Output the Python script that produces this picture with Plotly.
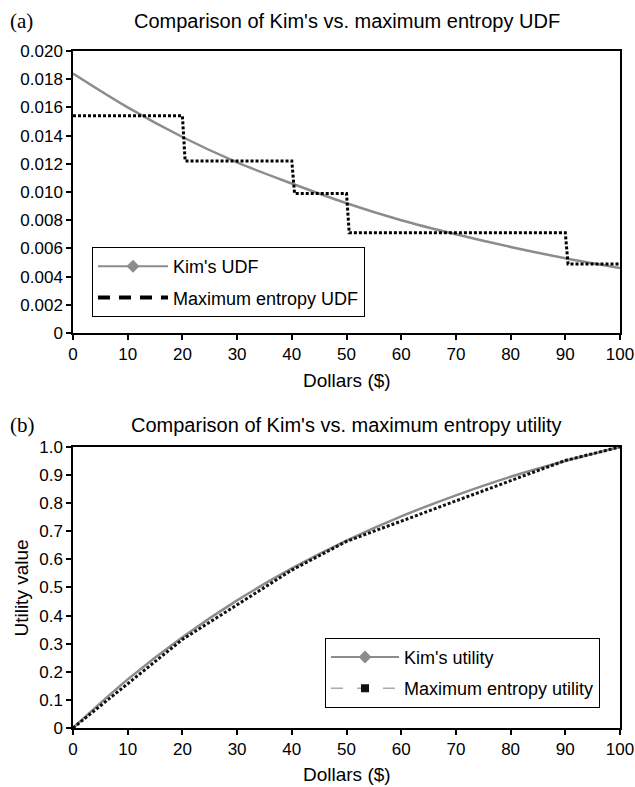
import plotly.graph_objects as go

# ---- data ----
dollars = [0, 10, 20, 30, 40, 50, 60, 70, 80, 90, 100]
kim_udf = [0.0184, 0.0160, 0.0139, 0.0121, 0.0106, 0.0092, 0.0080, 0.0070, 0.0061, 0.0053, 0.0046]

me_udf_x = [0, 20, 20.5, 40, 40.5, 50, 50.5, 90, 90.5, 100]
me_udf_y = [0.0154, 0.0154, 0.0122, 0.0122, 0.0099, 0.0099, 0.0071, 0.0071, 0.0049, 0.0049]

kim_utility = [0.0, 0.173, 0.323, 0.454, 0.568, 0.667, 0.753, 0.828, 0.894, 0.950, 1.0]

me_util_x = [0, 20, 40, 50, 90, 100]
me_util_y = [0.0, 0.315, 0.562, 0.664, 0.952, 1.0]

x_ticks = [0, 10, 20, 30, 40, 50, 60, 70, 80, 90, 100]
udf_ticks = [0, 0.002, 0.004, 0.006, 0.008, 0.010, 0.012, 0.014, 0.016, 0.018, 0.020]
udf_ticktext = ["0", "0.002", "0.004", "0.006", "0.008", "0.010", "0.012", "0.014", "0.016", "0.018", "0.020"]
util_ticks = [0, 0.1, 0.2, 0.3, 0.4, 0.5, 0.6, 0.7, 0.8, 0.9, 1.0]
util_ticktext = ["0", "0.1", "0.2", "0.3", "0.4", "0.5", "0.6", "0.7", "0.8", "0.9", "1.0"]

GRAY = "#8c8c8c"
FONT = "Liberation Sans, Arial, sans-serif"

fig = go.Figure()

# ---- top chart ----
fig.add_trace(go.Scatter(x=dollars, y=kim_udf, mode="lines", line=dict(color=GRAY, width=2.5, shape="spline"),
                         showlegend=False, xaxis="x", yaxis="y"))
fig.add_trace(go.Scatter(x=me_udf_x, y=me_udf_y, mode="lines", line=dict(color="black", width=3, dash="3px,2px"),
                         showlegend=False, xaxis="x", yaxis="y"))
fig.add_trace(go.Scatter(x=[None], y=[None], mode="lines+markers", name="Kim's UDF",
                         line=dict(color=GRAY, width=2), marker=dict(symbol="diamond", size=10, color=GRAY),
                         legend="legend", legendgroup="a1", xaxis="x", yaxis="y"))
fig.add_trace(go.Scatter(x=[None], y=[None], mode="lines", name="Maximum entropy UDF",
                         line=dict(color="black", width=4, dash="12px,9px"),
                         legend="legend", legendgroup="a2", xaxis="x", yaxis="y"))

# ---- bottom chart ----
fig.add_trace(go.Scatter(x=dollars, y=kim_utility, mode="lines", line=dict(color=GRAY, width=2.5, shape="spline"),
                         showlegend=False, xaxis="x2", yaxis="y2"))
fig.add_trace(go.Scatter(x=me_util_x, y=me_util_y, mode="lines", line=dict(color="#111111", width=3, dash="3px,2px"),
                         showlegend=False, xaxis="x2", yaxis="y2"))
fig.add_trace(go.Scatter(x=[None], y=[None], mode="lines+markers", name="Kim's utility",
                         line=dict(color=GRAY, width=2), marker=dict(symbol="diamond", size=10, color=GRAY),
                         legend="legend2", legendgroup="b1", xaxis="x2", yaxis="y2"))
fig.add_trace(go.Scatter(x=[None], y=[None], mode="lines+markers", name="Maximum entropy utility",
                         line=dict(color="#aaaaaa", width=1.5, dash="12px,14px"),
                         marker=dict(symbol="square", size=8, color="#111111"),
                         legend="legend2", legendgroup="b2", xaxis="x2", yaxis="y2"))

axis_common = dict(showgrid=False, zeroline=False, showline=True, linecolor="black", linewidth=1.5,
                   mirror=True, ticks="outside", ticklen=5, tickwidth=1.5, tickcolor="black",
                   ticklabeloverflow="allow", automargin=False,
                   tickfont=dict(size=17, color="black", family=FONT))

fig.update_layout(
    width=635, height=787,
    margin=dict(l=73, r=15, t=51, b=59, autoexpand=False),
    paper_bgcolor="white", plot_bgcolor="white",
    font=dict(family=FONT, color="black"),
    xaxis=dict(domain=[0, 1], range=[0, 100], tickvals=x_ticks, anchor="y", **axis_common),
    yaxis=dict(domain=[0.5835, 1.0], range=[0, 0.020], tickvals=udf_ticks, ticktext=udf_ticktext,
               anchor="x", **axis_common),
    xaxis2=dict(domain=[0, 1], range=[0, 100], tickvals=x_ticks, anchor="y2", **axis_common),
    yaxis2=dict(domain=[0, 0.4151], range=[0, 1.0], tickvals=util_ticks, ticktext=util_ticktext,
                anchor="x2", **axis_common),
    legend=dict(x=0.0347, y=0.7105, xanchor="left", yanchor="top", bordercolor="black", borderwidth=1,
                bgcolor="white", font=dict(size=18, family=FONT), itemwidth=70, tracegroupgap=5,
                traceorder="grouped"),
    legend2=dict(x=0.4607, y=0.1334, xanchor="left", yanchor="top", bordercolor="black", borderwidth=1,
                 bgcolor="white", font=dict(size=18, family=FONT), itemwidth=68, tracegroupgap=5,
                 traceorder="grouped"),
    showlegend=True,
)

annotations = [
    dict(text="(a)", x=-0.1188, y=1.0443, xanchor="left", yanchor="middle", font=dict(size=21, family="Liberation Serif, Times New Roman, serif")),
    dict(text="Comparison of Kim's vs. maximum entropy UDF", x=0.5, y=1.0443, xanchor="center", yanchor="middle", font=dict(size=20)),
    dict(text="Dollars ($)", x=0.5, y=0.5126, xanchor="center", yanchor="middle", font=dict(size=19)),
    dict(text="(b)", x=-0.1188, y=0.4476, xanchor="left", yanchor="middle", font=dict(size=21, family="Liberation Serif, Times New Roman, serif")),
    dict(text="Comparison of Kim's vs. maximum entropy utility", x=0.5, y=0.4476, xanchor="center", yanchor="middle", font=dict(size=20)),
    dict(text="Dollars ($)", x=0.5, y=-0.0694, xanchor="center", yanchor="middle", font=dict(size=19)),
    dict(text="Utility value", x=-0.0932, y=0.206, xanchor="center", yanchor="middle", textangle=-90, font=dict(size=19)),
]
for a in annotations:
    a.update(xref="paper", yref="paper", showarrow=False)
    a["font"].setdefault("family", FONT)
    a["font"]["color"] = "black"
fig.update_layout(annotations=annotations)

fig.write_html("out.html")
